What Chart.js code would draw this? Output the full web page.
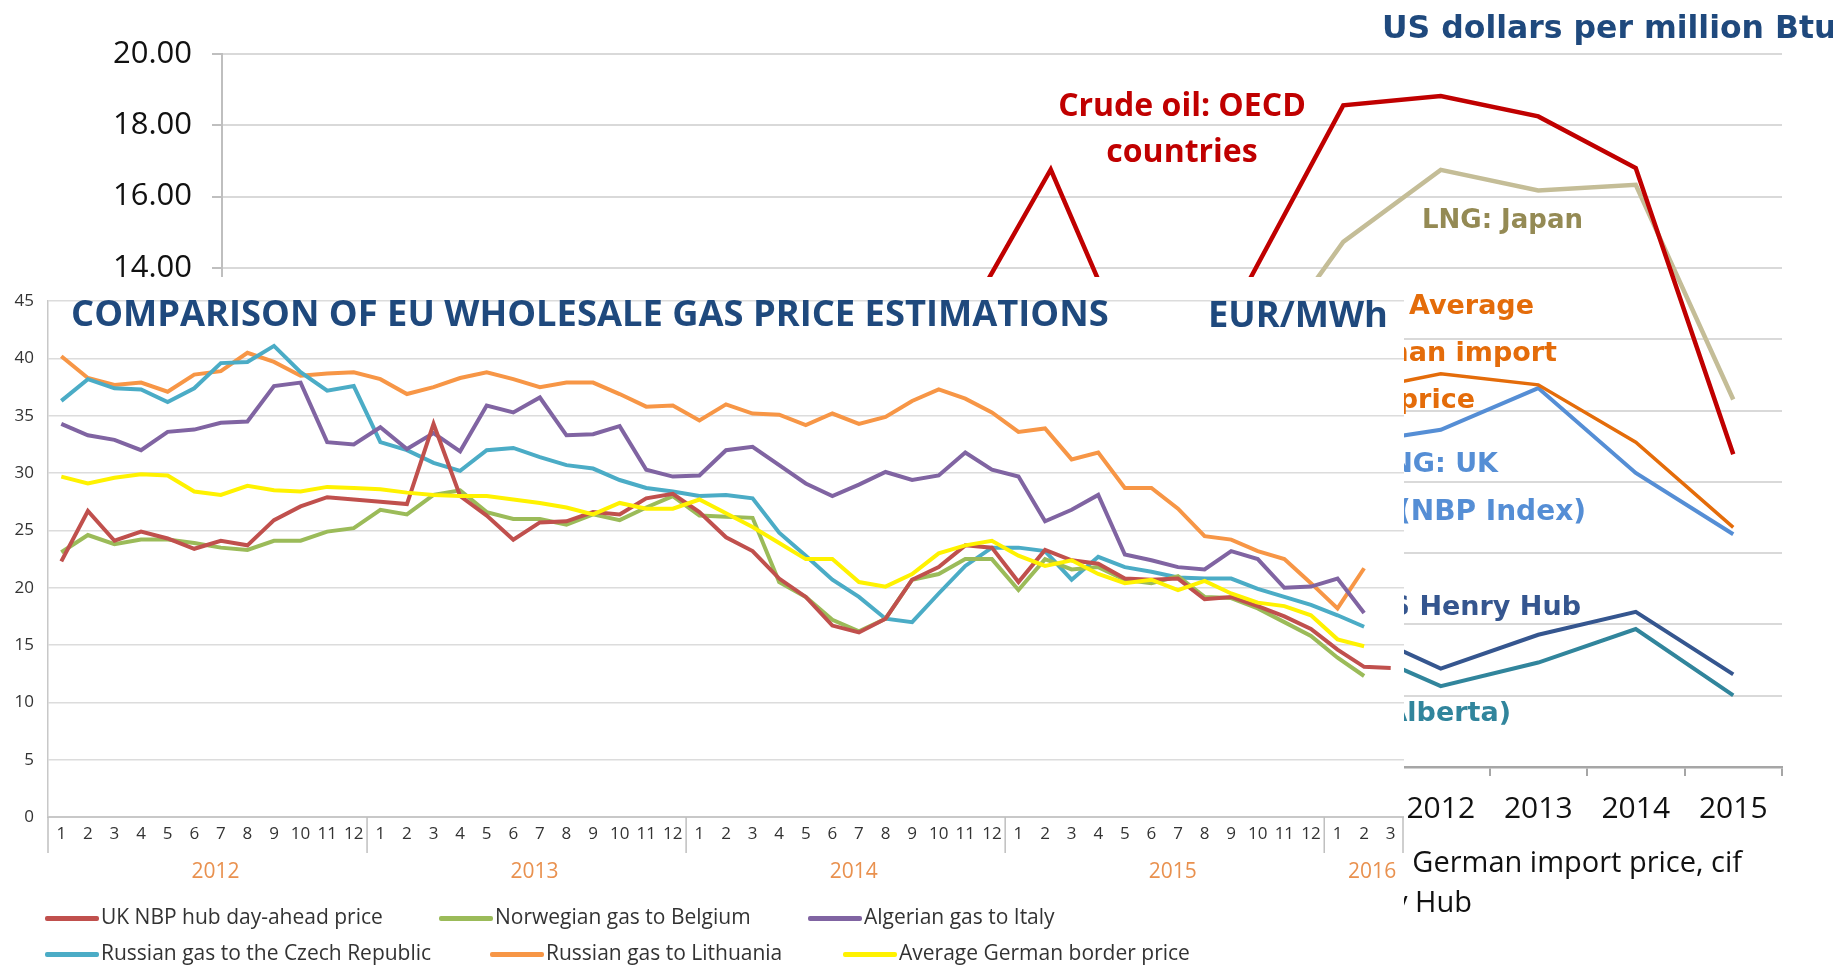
<!DOCTYPE html>
<html><head><meta charset="utf-8">
<script src="https://cdn.jsdelivr.net/npm/chart.js@4.4.1/dist/chart.umd.min.js"></script>
<style>
html,body{margin:0;padding:0;background:#fff;width:1833px;height:967px;overflow:hidden;position:relative;}
#bg{position:absolute;left:0;top:0;z-index:0;}
.t{position:absolute;white-space:nowrap;line-height:1;}
#fgbox{position:absolute;left:0;top:277px;width:1404px;height:690px;background:#fff;overflow:hidden;z-index:5;}
#fg{position:absolute;left:0;top:0;}
.lg{position:absolute;height:5px;width:54px;border-radius:2px;}
</style></head><body>
<canvas id="bg" width="1833" height="967"></canvas>
<div id="fgbox"><canvas id="fg" width="1404" height="690"></canvas></div>
<script>
// ---------- Background chart data (US dollars per million Btu) ----------
const bgYears = ['2000','2001','2002','2003','2004','2005','2006','2007','2008','2009','2010','2011','2012','2013','2014','2015'];
const crudeOilOECD = [4.83,4.08,4.17,4.89,6.27,8.74,10.66,11.95,16.76,10.41,13.47,18.56,18.82,18.25,16.80,8.77];
const lngJapan     = [4.72,4.64,4.27,4.77,5.18,6.05,7.14,7.73,12.55,9.06,10.91,14.73,16.75,16.17,16.33,10.31];
const germanImport = [2.89,3.66,3.23,4.06,4.32,5.88,7.85,8.03,11.56,8.52,8.01,10.48,11.03,10.72,9.11,6.72];
const ukNbpIndex   = [2.71,3.17,2.37,3.33,4.46,7.38,7.87,6.01,10.79,4.85,6.56,9.04,9.46,10.63,8.25,6.53];
const henryHub     = [4.23,4.07,3.33,5.63,5.85,8.79,6.76,6.95,8.85,3.89,4.39,4.01,2.76,3.71,4.35,2.60];
const alberta      = [3.75,3.61,2.57,4.83,5.03,7.25,5.83,6.17,7.99,3.38,3.69,3.47,2.27,2.93,3.87,2.01];

// ---------- Foreground chart data (EUR/MWh, monthly 2012-01 .. 2016-03) ----------
const months = ['1','2','3','4','5','6','7','8','9','10','11','12',
                '1','2','3','4','5','6','7','8','9','10','11','12',
                '1','2','3','4','5','6','7','8','9','10','11','12',
                '1','2','3','4','5','6','7','8','9','10','11','12',
                '1','2','3'];
const yearGroups = ['2012','2013','2014','2015','2016'];
const yearGroupSizes = [12,12,12,12,3];
const ukNbpDayAhead = [22.3,26.7,24.1,24.9,24.3,23.4,24.1,23.7,25.9,27.1,27.9,27.7,
                       27.5,27.3,34.3,28.0,26.3,24.2,25.7,25.8,26.6,26.4,27.8,28.2,
                       26.6,24.4,23.2,20.8,19.2,16.7,16.1,17.3,20.7,21.8,23.7,23.5,
                       20.5,23.3,22.4,22.1,20.8,20.7,20.8,19.0,19.2,18.4,17.5,16.4,
                       14.6,13.1,13.0];
const norwayBelgium = [23.1,24.6,23.8,24.2,24.2,23.9,23.5,23.3,24.1,24.1,24.9,25.2,
                       26.8,26.4,28.1,28.5,26.6,26.0,26.0,25.5,26.4,25.9,27.0,28.0,
                       26.3,26.2,26.1,20.5,19.2,17.2,16.2,17.3,20.7,21.2,22.5,22.5,
                       19.8,22.5,21.6,21.8,20.7,20.4,21.0,19.2,19.1,18.2,17.0,15.8,
                       13.9,12.3,null];
const algeriaItaly  = [34.3,33.3,32.9,32.0,33.6,33.8,34.4,34.5,37.6,37.9,32.7,32.5,
                       34.0,32.1,33.5,31.9,35.9,35.3,36.6,33.3,33.4,34.1,30.3,29.7,
                       29.8,32.0,32.3,30.7,29.1,28.0,29.0,30.1,29.4,29.8,31.8,30.3,
                       29.7,25.8,26.8,28.1,22.9,22.4,21.8,21.6,23.2,22.5,20.0,20.1,
                       20.8,17.8,null];
const russiaCzech   = [36.3,38.2,37.4,37.3,36.2,37.4,39.6,39.7,41.1,38.8,37.2,37.6,
                       32.7,32.0,30.9,30.2,32.0,32.2,31.4,30.7,30.4,29.4,28.7,28.4,
                       28.0,28.1,27.8,24.8,22.8,20.7,19.2,17.3,17.0,19.5,21.9,23.5,
                       23.5,23.2,20.7,22.7,21.8,21.4,20.9,20.8,20.8,19.9,19.2,18.5,
                       17.6,16.6,null];
const russiaLithuania=[40.2,38.3,37.7,37.9,37.1,38.6,38.9,40.5,39.7,38.5,38.7,38.8,
                       38.2,36.9,37.5,38.3,38.8,38.2,37.5,37.9,37.9,36.9,35.8,35.9,
                       34.6,36.0,35.2,35.1,34.2,35.2,34.3,34.9,36.3,37.3,36.5,35.3,
                       33.6,33.9,31.2,31.8,28.7,28.7,26.9,24.5,24.2,23.2,22.5,20.4,
                       18.2,21.7,null];
const germanBorder  = [29.7,29.1,29.6,29.9,29.8,28.4,28.1,28.9,28.5,28.4,28.8,28.7,
                       28.6,28.3,28.1,28.0,28.0,27.7,27.4,27.0,26.4,27.4,26.9,26.9,
                       27.7,26.5,25.3,23.9,22.5,22.5,20.5,20.1,21.2,23.0,23.7,24.1,
                       22.8,21.9,22.4,21.2,20.4,20.7,19.8,20.6,19.5,18.7,18.4,17.6,
                       15.5,14.9,null];

// ---------- text helpers ----------
const BASE = {'DejaVu Sans':0.846,'Open Sans':0.888,'Liberation Sans':0.847};
function label(txt,o,parent){
  const d=document.createElement('div');
  d.className='t'; d.textContent=txt;
  d.style.fontFamily='"'+o.f+'"'; d.style.fontSize=o.s+'px'; d.style.fontWeight=o.w||'normal';
  d.style.color=o.c;
  const W = parent ? 1404 : 1833;
  const top = o.b - o.s*BASE[o.f] - (parent?277:0);
  d.style.top=top+'px';
  if(o.r!=null){ d.style.right=(W-o.r)+'px'; }
  else if(o.cx!=null){ d.style.left=o.cx+'px'; d.style.transform='translateX(-50%)'; }
  else d.style.left=o.l+'px';
  if(o.z!=null) d.style.zIndex=o.z;
  (parent||document.body).appendChild(d);
  return d;
}

// ---------- Background chart ----------
function bgSet(lbl,data,color,w){return {label:lbl,data,borderColor:color,borderWidth:w,pointRadius:0,tension:0,fill:false};}
new Chart(document.getElementById('bg'),{
  type:'line',
  data:{labels:bgYears,datasets:[
    bgSet('Crude oil: OECD countries',crudeOilOECD,'#C00000',4.5),
    bgSet('LNG: Japan',lngJapan,'#C4BD97',4.5),
    bgSet('Average German import price',germanImport,'#E46C0A',3.5),
    bgSet('LNG: UK (NBP Index)',ukNbpIndex,'#558ED5',4),
    bgSet('US Henry Hub',henryHub,'#35568F',4),
    bgSet('Canada (Alberta)',alberta,'#31859C',4)
  ]},
  options:{
    responsive:false,animation:false,devicePixelRatio:1,
    layout:{padding:{left:0,top:54,right:51,bottom:0}},
    plugins:{legend:{display:false},tooltip:{enabled:false}},
    scales:{
      x:{offset:true,
         grid:{display:true,drawOnChartArea:false,drawTicks:true,tickLength:9,color:'#A6A6A6',lineWidth:2,offset:true},
         border:{display:true,color:'#A6A6A6',width:2.5},
         ticks:{font:{family:'Open Sans',size:30},color:'#111',padding:15,maxRotation:0,autoSkip:false},
         afterFit:s=>{s.height=200;}},
      y:{min:0,max:20,
         ticks:{stepSize:2,callback:v=>Number(v).toFixed(2),font:{family:'Open Sans',size:31},color:'#111',padding:20},
         grid:{color:'#D9D9D9',lineWidth:2,tickLength:10,tickColor:'#BFBFBF',drawTicks:true},
         border:{display:true,color:'#BFBFBF',width:2},
         afterFit:s=>{s.width=222;}}
    }
  }
});

// background annotations
label('US dollars per million Btu',{f:'DejaVu Sans',s:31.5,w:'bold',c:'#1F497D',l:1382,b:39});
label('Crude oil: OECD',{f:'Open Sans',s:32,w:'bold',c:'#C00000',cx:1182,b:116});
label('countries',{f:'Open Sans',s:32,w:'bold',c:'#C00000',cx:1182,b:162});
label('LNG: Japan',{f:'DejaVu Sans',s:26,w:'bold',c:'#948A54',l:1422,b:228});
label('Average',{f:'DejaVu Sans',s:27,w:'bold',c:'#E46C0A',r:1534,b:314});
label('German import',{f:'DejaVu Sans',s:27,w:'bold',c:'#E46C0A',r:1557,b:361});
label('price',{f:'DejaVu Sans',s:27,w:'bold',c:'#E46C0A',r:1475,b:408});
label('LNG: UK',{f:'DejaVu Sans',s:27,w:'bold',c:'#558ED5',r:1498,b:472});
label('(NBP Index)',{f:'DejaVu Sans',s:28,w:'bold',c:'#558ED5',r:1586,b:521});
label('US Henry Hub',{f:'DejaVu Sans',s:27,w:'bold',c:'#35568F',r:1581,b:615});
label('Canada (Alberta)',{f:'DejaVu Sans',s:27,w:'bold',c:'#31859C',r:1511,b:721});
label('Average German import price, cif',{f:'Open Sans',s:29,c:'#111',r:1742,b:872});
label('US Henry Hub',{f:'Open Sans',s:29,c:'#111',r:1472,b:912});

// ---------- Foreground chart ----------
const yearPlugin={
  id:'yearGroups',
  afterDraw(chart){
    const x=chart.scales.x, ctx=chart.ctx, a=chart.chartArea;
    ctx.save();
    ctx.strokeStyle='#BFBFBF'; ctx.lineWidth=1.5;
    ctx.fillStyle='#E9914F'; ctx.font='21px "Open Sans"';
    ctx.textAlign='center'; ctx.textBaseline='middle';
    let start=0;
    const edge=i=> i<=0 ? a.left : (i>=months.length ? a.right : (x.getPixelForValue(i-1)+x.getPixelForValue(i))/2);
    yearGroupSizes.forEach((n,g)=>{
      const l=edge(start), r=edge(start+n);
      ctx.beginPath(); ctx.moveTo(l,a.bottom); ctx.lineTo(l,a.bottom+36); ctx.stroke();
      if(start+n>=months.length){ctx.beginPath(); ctx.moveTo(r-1,a.bottom); ctx.lineTo(r-1,a.bottom+36); ctx.stroke();}
      ctx.fillText(yearGroups[g],(l+r)/2+8,a.bottom+55);
      start+=n;
    });
    ctx.restore();
  }
};
function fgSet(lbl,data,color,order){return {label:lbl,data,borderColor:color,borderWidth:4,pointRadius:0,tension:0,fill:false,spanGaps:false,order};}
new Chart(document.getElementById('fg'),{
  type:'line',
  data:{labels:months,datasets:[
    fgSet('UK NBP hub day-ahead price',ukNbpDayAhead,'#C0504D',2),
    fgSet('Norwegian gas to Belgium',norwayBelgium,'#9BBB59',3),
    fgSet('Algerian gas to Italy',algeriaItaly,'#8064A2',4),
    fgSet('Russian gas to the Czech Republic',russiaCzech,'#4BACC6',5),
    fgSet('Russian gas to Lithuania',russiaLithuania,'#F79646',6),
    fgSet('Average German border price',germanBorder,'#FFF200',1)
  ]},
  options:{
    responsive:false,animation:false,devicePixelRatio:1,
    layout:{padding:{left:0,top:16,right:0,bottom:0}},
    plugins:{legend:{display:false},tooltip:{enabled:false}},
    scales:{
      x:{offset:true,
         grid:{display:false,drawTicks:false},
         border:{display:true,color:'#C8C8C8',width:2},
         ticks:{font:{family:'Open Sans',size:17},color:'#333',padding:7,maxRotation:0,autoSkip:false},
         afterFit:s=>{s.height=150;}},
      y:{min:0,max:45,
         ticks:{stepSize:5,font:{family:'Open Sans',size:17},color:'#333',padding:14},
         grid:{color:'#DCDCDC',lineWidth:1.5,drawTicks:false},
         border:{display:true,color:'#C8C8C8',width:1.5},
         afterFit:s=>{s.width=48;}}
    }
  },
  plugins:[yearPlugin]
});

const box=document.getElementById('fgbox');
label('COMPARISON OF EU WHOLESALE GAS PRICE ESTIMATIONS',{f:'Open Sans',s:36.3,w:'bold',c:'#1F497D',l:71,b:326},box);
label('EUR/MWh',{f:'Open Sans',s:36.3,w:'bold',c:'#1F497D',l:1208,b:327},box);

// legend (HTML)
const legendItems=[
  ['UK NBP hub day-ahead price','#C0504D',45,918],
  ['Norwegian gas to Belgium','#9BBB59',439,918],
  ['Algerian gas to Italy','#8064A2',808,918],
  ['Russian gas to the Czech Republic','#4BACC6',45,954],
  ['Russian gas to Lithuania','#F79646',490,954],
  ['Average German border price','#FFF200',843,954]
];
legendItems.forEach(([t,c,x,y])=>{
  const s=document.createElement('div'); s.className='lg';
  s.style.background=c; s.style.left=x+'px'; s.style.top=(y-277-2.5)+'px';
  box.appendChild(s);
  label(t,{f:'Open Sans',s:21,c:'#333',l:x+56,b:y+7},box);
});
</script>
</body></html>
